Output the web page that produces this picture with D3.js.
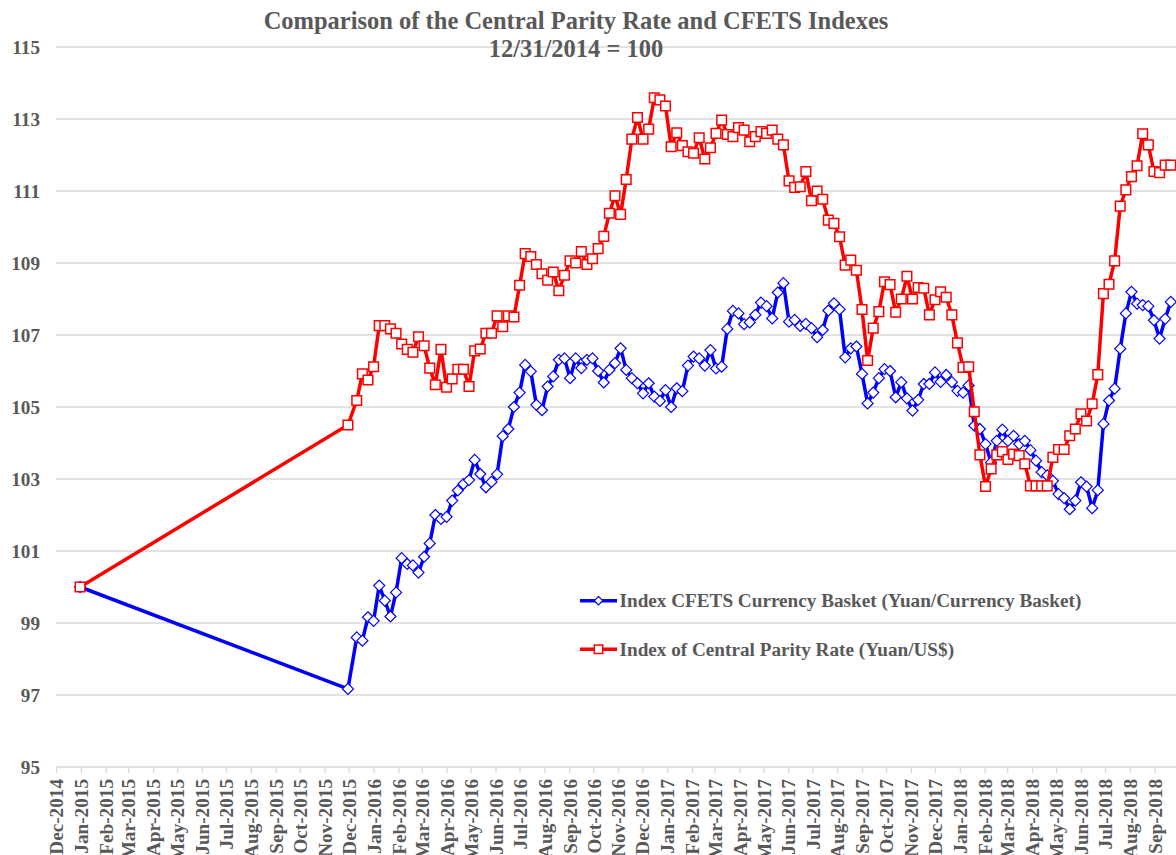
<!DOCTYPE html>
<html>
<head>
<meta charset="utf-8">
<script src="https://cdn.jsdelivr.net/npm/d3@7"></script>
<style>
  html, body { margin: 0; padding: 0; background: #ffffff; }
  svg { display: block; }
  text { font-family: "Liberation Serif", "Times New Roman", serif; font-weight: bold; fill: #595959; }
</style>
</head>
<body>
<svg id="chart" width="1176" height="855"></svg>
<script>
// ---------- DATA ----------
const titleLines = ["Comparison of the Central Parity Rate and CFETS Indexes", "12/31/2014 = 100"];
const seriesNames = ["Index CFETS Currency Basket (Yuan/Currency Basket)", "Index of Central Parity Rate (Yuan/US$)"];
const yTicks = [95, 97, 99, 101, 103, 105, 107, 109, 111, 113, 115];

const dates = [
  "2014-12-31", "2015-11-30",
  "2015-12-11", "2015-12-18", "2015-12-25",
  "2016-01-01", "2016-01-08", "2016-01-15", "2016-01-22", "2016-01-29",
  "2016-02-05", "2016-02-12", "2016-02-19", "2016-02-26",
  "2016-03-04", "2016-03-11", "2016-03-18", "2016-03-25",
  "2016-04-01", "2016-04-08", "2016-04-15", "2016-04-22", "2016-04-29",
  "2016-05-06", "2016-05-13", "2016-05-20", "2016-05-27",
  "2016-06-03", "2016-06-10", "2016-06-17", "2016-06-24",
  "2016-07-01", "2016-07-08", "2016-07-15", "2016-07-22", "2016-07-29",
  "2016-08-05", "2016-08-12", "2016-08-19", "2016-08-26",
  "2016-09-02", "2016-09-09", "2016-09-16", "2016-09-23", "2016-09-30",
  "2016-10-07", "2016-10-14", "2016-10-21", "2016-10-28",
  "2016-11-04", "2016-11-11", "2016-11-18", "2016-11-25",
  "2016-12-02", "2016-12-09", "2016-12-16", "2016-12-23", "2016-12-30",
  "2017-01-06", "2017-01-13", "2017-01-20", "2017-01-27",
  "2017-02-03", "2017-02-10", "2017-02-17", "2017-02-24",
  "2017-03-03", "2017-03-10", "2017-03-17", "2017-03-24", "2017-03-31",
  "2017-04-07", "2017-04-14", "2017-04-21", "2017-04-28",
  "2017-05-05", "2017-05-12", "2017-05-19", "2017-05-26",
  "2017-06-02", "2017-06-09", "2017-06-16", "2017-06-23", "2017-06-30",
  "2017-07-07", "2017-07-14", "2017-07-21", "2017-07-28",
  "2017-08-04", "2017-08-11", "2017-08-18", "2017-08-25",
  "2017-09-01", "2017-09-08", "2017-09-15", "2017-09-22", "2017-09-29",
  "2017-10-06", "2017-10-13", "2017-10-20", "2017-10-27",
  "2017-11-03", "2017-11-10", "2017-11-17", "2017-11-24",
  "2017-12-01", "2017-12-08", "2017-12-15", "2017-12-22", "2017-12-29",
  "2018-01-05", "2018-01-12", "2018-01-19", "2018-01-26",
  "2018-02-02", "2018-02-09", "2018-02-16", "2018-02-23",
  "2018-03-02", "2018-03-09", "2018-03-16", "2018-03-23", "2018-03-30",
  "2018-04-06", "2018-04-13", "2018-04-20", "2018-04-27",
  "2018-05-04", "2018-05-11", "2018-05-18", "2018-05-25",
  "2018-06-01", "2018-06-08", "2018-06-15", "2018-06-22", "2018-06-29",
  "2018-07-06", "2018-07-13", "2018-07-20", "2018-07-27",
  "2018-08-03", "2018-08-10", "2018-08-17", "2018-08-24", "2018-08-31",
  "2018-09-07", "2018-09-14", "2018-09-21"
];

const cfetsIndex = [
  100, 97.17,
  98.6, 98.51, 99.16,
  99.06, 100.04, 99.62, 99.18, 99.85,
  100.8, 100.64, 100.6, 100.4,
  100.84, 101.21, 102.0, 101.89,
  101.95, 102.4, 102.68, 102.86, 102.97,
  103.53, 103.14, 102.77, 102.92,
  103.13, 104.19, 104.39, 105.0,
  105.4, 106.17, 105.99, 105.06, 104.91,
  105.57, 105.85, 106.31, 106.35,
  105.8, 106.35, 106.08, 106.31, 106.35,
  106.0, 105.68, 106.03, 106.22,
  106.63, 106.03, 105.8, 105.66,
  105.38, 105.66, 105.29, 105.17, 105.47,
  105.0, 105.52, 105.44, 106.15,
  106.4, 106.35, 106.15, 106.58,
  106.07, 106.12, 107.17, 107.67, 107.6,
  107.3, 107.35, 107.56, 107.9,
  107.8, 107.46, 108.18, 108.44,
  107.37, 107.42, 107.25, 107.31, 107.19,
  106.94, 107.14, 107.68, 107.88,
  107.71, 106.38, 106.63, 106.68,
  105.92, 105.1, 105.4, 105.8, 106.05,
  106.0, 105.27, 105.69, 105.24,
  104.9, 105.2, 105.64, 105.64,
  105.96, 105.7, 105.89, 105.69, 105.45,
  105.4, 105.6, 104.48, 104.39,
  103.97, 103.46, 104.06, 104.37,
  104.06, 104.2, 103.97, 104.06, 103.8,
  103.51, 103.19, 103.1, 102.95,
  102.58, 102.47, 102.16, 102.4,
  102.91, 102.79, 102.19, 102.69, 104.53,
  105.18, 105.51, 106.62, 107.6,
  108.2, 107.87, 107.83, 107.8, 107.41,
  106.9, 107.45, 107.92
];

const parityIndex = [
  100, 104.5,
  105.18, 105.92, 105.75,
  106.12, 107.26, 107.26, 107.17, 107.05,
  106.75, 106.6, 106.52, 106.95,
  106.7, 106.08, 105.62, 106.6,
  105.55, 105.78, 106.05, 106.05, 105.57,
  106.56, 106.61, 107.05, 107.05,
  107.53, 107.23, 107.53, 107.5,
  108.38, 109.26, 109.18, 108.96, 108.7,
  108.52, 108.75, 108.23, 108.66,
  109.06, 109.0, 109.32, 108.96, 109.12,
  109.4, 109.74, 110.38, 110.87,
  110.35, 111.32, 112.44, 113.04,
  112.44, 112.72, 113.59, 113.53, 113.36,
  112.23, 112.62, 112.26, 112.09,
  112.05, 112.48, 111.89, 112.2,
  112.6, 112.97, 112.57, 112.51, 112.76,
  112.69, 112.37, 112.51, 112.65,
  112.6, 112.69, 112.44, 112.28,
  111.28, 111.1, 111.12, 111.54, 110.73,
  111.0, 110.77, 110.19, 110.1,
  109.73, 108.94, 109.08, 108.8,
  107.71, 106.29, 107.19, 107.65, 108.48,
  108.4, 107.63, 108.0, 108.63,
  108.0, 108.32, 108.3, 107.56,
  107.98, 108.2, 108.05, 107.56, 106.78,
  106.1, 106.12, 104.87, 103.67,
  102.79, 103.28, 103.67, 103.76,
  103.54, 103.69, 103.65, 103.42, 102.81,
  102.81, 102.81, 102.81, 103.6,
  103.82, 103.82, 104.2, 104.39,
  104.81, 104.61, 105.09, 105.9, 108.15,
  108.41, 109.06, 110.58, 111.03,
  111.4, 111.7, 112.59, 112.28, 111.54,
  111.51, 111.72, 111.72
];

// ---------- CHART ----------
const W = 1176, H = 855;
const svg = d3.select("#chart");
svg.append("rect").attr("width", W).attr("height", H).attr("fill", "#ffffff");

const parse = d3.utcParse("%Y-%m-%d");
const xDates = dates.map(parse);
const x0 = Date.UTC(2014, 11, 1), x1 = Date.UTC(2018, 9, 1);
const x = d3.scaleUtc().domain([new Date(x0), new Date(x1)]).range([56, 1178.8]);
const y = d3.scaleLinear().domain([95, 115]).range([767, 47]);

const fontSize = 19.2;

// gridlines
svg.append("g").selectAll("line").data(yTicks.filter(v => v !== 95)).join("line")
  .attr("x1", 56).attr("x2", W)
  .attr("y1", d => y(d)).attr("y2", d => y(d))
  .attr("stroke", "#d9d9d9").attr("stroke-width", 1.3);

// y labels
svg.append("g").selectAll("text").data(yTicks).join("text")
  .attr("x", 40).attr("y", d => y(d)).attr("dy", "0.35em")
  .attr("text-anchor", "end").style("font-size", fontSize + "px")
  .text(d => d);

// x axis
const monthTicks = d3.utcMonth.range(new Date(x0), new Date(Date.UTC(2018, 8, 2)));
const xAxis = d3.axisBottom(x).tickValues(monthTicks).tickSize(6).tickPadding(6)
  .tickFormat(d3.utcFormat("%b-%Y"));
const gx = svg.append("g").attr("transform", "translate(0,767)").call(xAxis);
gx.select(".domain").attr("stroke", "#d9d9d9").attr("stroke-width", 1.3)
  .attr("d", `M56,0H${W}`);
gx.selectAll(".tick line").attr("stroke", "#d9d9d9").attr("stroke-width", 1.3);
gx.selectAll(".tick text")
  .attr("fill", "#595959")
  .style("font-family", '"Liberation Serif", "Times New Roman", serif')
  .style("font-weight", "bold")
  .style("font-size", fontSize + "px")
  .attr("text-anchor", "end")
  .attr("transform", "translate(0,12) rotate(-90)")
  .attr("x", 0).attr("y", 0).attr("dy", "0.35em");

// title
svg.append("text").attr("x", 576).attr("y", 29).attr("text-anchor", "middle")
  .style("font-size", "24.5px").text(titleLines[0]);
svg.append("text").attr("x", 576).attr("y", 57).attr("text-anchor", "middle")
  .style("font-size", "24.5px").text(titleLines[1]);

const line = d3.line().x(d => x(d[0])).y(d => y(d[1]));
const cfetsPts = xDates.map((d, i) => [d, cfetsIndex[i]]);
const parityPts = xDates.map((d, i) => [d, parityIndex[i]]);

const diamond = s => `M0,${-s}L${s},0L0,${s}L${-s},0Z`;
const square = s => `M${-s},${-s}H${s}V${s}H${-s}Z`;

function drawSeries(pts, color, shape, sw) {
  const g = svg.append("g");
  g.append("path").datum(pts).attr("d", line)
    .attr("fill", "none").attr("stroke", color).attr("stroke-width", 3.5)
    .attr("stroke-linejoin", "round");
  g.selectAll("path.m").data(pts).join("path").attr("class", "m")
    .attr("transform", d => `translate(${x(d[0])},${y(d[1])})`)
    .attr("d", shape).attr("fill", "#ffffff").attr("stroke", color).attr("stroke-width", sw);
}
drawSeries(cfetsPts, "#0000ff", diamond(5.5), 1.2);
drawSeries(parityPts, "#ff0000", square(4.8), 1.5);

// legend
const legend = [
  { name: seriesNames[0], color: "#0000ff", shape: diamond(4.2), sw: 1.2, y: 600.7 },
  { name: seriesNames[1], color: "#ff0000", shape: square(4.2), sw: 1.5, y: 649.3 }
];
legend.forEach(l => {
  const g = svg.append("g");
  g.append("line").attr("x1", 580).attr("x2", 617).attr("y1", l.y).attr("y2", l.y)
    .attr("stroke", l.color).attr("stroke-width", 3.5);
  g.append("path").attr("transform", `translate(598.5,${l.y})`).attr("d", l.shape)
    .attr("fill", "#fff").attr("stroke", l.color).attr("stroke-width", l.sw);
  g.append("text").attr("x", 619.5).attr("y", l.y).attr("dy", "0.35em")
    .style("font-size", fontSize + "px").text(l.name);
});
</script>
</body>
</html>
